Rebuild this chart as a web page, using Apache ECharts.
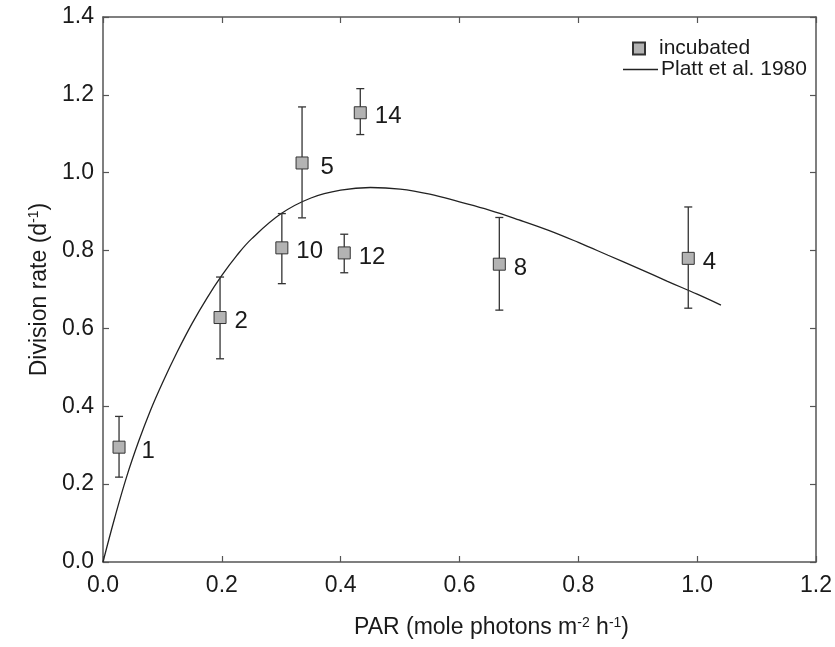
<!DOCTYPE html>
<html>
<head>
<meta charset="utf-8">
<script src="https://cdn.jsdelivr.net/npm/echarts@6/dist/echarts.min.js"></script>
<style>
html,body{margin:0;padding:0;background:#fff;}
#chart{width:835px;height:647px;}
</style>
</head>
<body>
<div id="chart"></div>
<script>
// ---- data ----
const parX      = [0.027, 0.197, 0.301, 0.335, 0.406, 0.433, 0.667, 0.985];
const rate      = [0.295, 0.628, 0.807, 1.025, 0.794, 1.154, 0.765, 0.780];
const errLow    = [0.218, 0.522, 0.715, 0.884, 0.743, 1.098, 0.647, 0.652];
const errHigh   = [0.374, 0.732, 0.895, 1.169, 0.842, 1.216, 0.885, 0.912];
const pointLabels = ['1', '2', '10', '5', '12', '14', '8', '4'];

const curveX = [0, 0.02, 0.04, 0.06, 0.08, 0.10, 0.125, 0.15, 0.175, 0.2, 0.225, 0.25, 0.3, 0.35, 0.4, 0.45, 0.5, 0.55, 0.6, 0.65, 0.7, 0.75, 0.8, 0.85, 0.9, 0.95, 1.0, 1.04];
const curveY = [0, 0.115, 0.22, 0.31, 0.39, 0.46, 0.54, 0.613, 0.678, 0.736, 0.787, 0.83, 0.895, 0.935, 0.955, 0.962, 0.958, 0.945, 0.925, 0.904, 0.879, 0.852, 0.821, 0.788, 0.755, 0.721, 0.688, 0.66];

const xTicks = { min: 0, max: 1.2, step: 0.2 };
const yTicks = { min: 0, max: 1.4, step: 0.2 };

// ---- styles ----
const FONT = '"Liberation Sans", Arial, Helvetica, sans-serif';
const TXT = '#1a1a1a';
const AX = '#555';
const labelDistance = { '5': 12, '1': 16 };

const chart = echarts.init(document.getElementById('chart'), null, { renderer: 'canvas' });

const scatterData = parX.map((x, i) => ({
  value: [x, rate[i]],
  label: { distance: labelDistance[pointLabels[i]] !== undefined ? labelDistance[pointLabels[i]] : 8 }
}));
const errData = parX.map((x, i) => [x, errLow[i], errHigh[i]]);
const curveData = curveX.map((x, i) => [x, curveY[i]]);

function axisCommon(showLabel, margin) {
  return {
    axisLine: { show: true, onZero: false, lineStyle: { color: AX, width: 1.5 } },
    axisTick: { show: true, inside: true, length: 6, lineStyle: { color: AX, width: 1.2 } },
    splitLine: { show: false },
    axisLabel: showLabel ? {
      show: true, fontSize: 23, color: TXT, fontFamily: FONT, margin: margin,
      formatter: v => v.toFixed(1)
    } : { show: false }
  };
}

const supStyle = { fontSize: 14, verticalAlign: 'top', padding: [0, 0, 10, 0], color: TXT, fontFamily: FONT };

const option = {
  backgroundColor: '#fff',
  animation: false,
  textStyle: { fontFamily: FONT },
  grid: { left: 103, right: 18, top: 17, bottom: 85, containLabel: false },
  legend: [
    {
      data: [{ name: 'incubated', icon: 'rect' }],
      left: 627, top: 33,
      itemWidth: 12, itemHeight: 12,
      textStyle: { fontSize: 21, color: TXT, fontFamily: FONT, padding: [0, 0, 0, 9] },
      selectedMode: false
    },
    {
      data: [{ name: 'Platt et al. 1980', icon: 'rect' }],
      left: 618, top: 54,
      itemWidth: 35, itemHeight: 1.5,
      itemStyle: { color: '#222' },
      textStyle: { fontSize: 21, color: TXT, fontFamily: FONT, padding: [0, 0, 0, -2] },
      selectedMode: false
    }
  ],
  xAxis: [
    Object.assign({
      type: 'value', position: 'bottom',
      min: xTicks.min, max: xTicks.max, interval: xTicks.step,
      name: 'PAR (mole photons m{sup|-2} h{sup|-1})',
      nameLocation: 'middle', nameGap: 54,
      nameTextStyle: {
        fontSize: 23, color: TXT, fontFamily: FONT, padding: [0, 0, 0, 64],
        rich: { sup: supStyle }
      }
    }, axisCommon(true, 12)),
    Object.assign({
      type: 'value', position: 'top',
      min: xTicks.min, max: xTicks.max, interval: xTicks.step
    }, axisCommon(false, 0))
  ],
  yAxis: [
    Object.assign({
      type: 'value', position: 'left',
      min: yTicks.min, max: yTicks.max, interval: yTicks.step,
      name: 'Division rate (d{sup|-1})',
      nameLocation: 'middle', nameGap: 50, nameRotate: 90,
      nameTextStyle: {
        fontSize: 23, color: TXT, fontFamily: FONT,
        rich: { sup: supStyle }
      }
    }, axisCommon(true, 9)),
    Object.assign({
      type: 'value', position: 'right',
      min: yTicks.min, max: yTicks.max, interval: yTicks.step
    }, axisCommon(false, 0))
  ],
  series: [
    {
      name: 'Platt et al. 1980',
      type: 'line',
      data: curveData,
      smooth: 0.4,
      symbol: 'none',
      showSymbol: false,
      lineStyle: { color: '#222', width: 1.3 },
      itemStyle: { color: '#222' },
      z: 3
    },
    {
      name: 'errorbars',
      type: 'custom',
      data: errData,
      z: 4,
      renderItem: function (params, api) {
        const x = api.value(0);
        const lo = api.coord([x, api.value(1)]);
        const hi = api.coord([x, api.value(2)]);
        const cap = 4;
        const st = { stroke: '#333', lineWidth: 1.3 };
        return {
          type: 'group',
          children: [
            { type: 'line', shape: { x1: lo[0], y1: lo[1], x2: hi[0], y2: hi[1] }, style: st },
            { type: 'line', shape: { x1: lo[0] - cap, y1: lo[1], x2: lo[0] + cap, y2: lo[1] }, style: st },
            { type: 'line', shape: { x1: hi[0] - cap, y1: hi[1], x2: hi[0] + cap, y2: hi[1] }, style: st }
          ]
        };
      }
    },
    {
      name: 'incubated',
      type: 'scatter',
      data: scatterData,
      symbol: 'rect',
      symbolSize: 12,
      z: 5,
      itemStyle: { color: '#b3b3b3', borderColor: '#333', borderWidth: 1, opacity: 1 },
      label: {
        show: true,
        position: 'right',
        offset: [0, 4],
        fontSize: 24,
        color: TXT,
        fontFamily: FONT,
        formatter: p => pointLabels[p.dataIndex]
      }
    }
  ]
};

chart.setOption(option);
</script>
</body>
</html>
